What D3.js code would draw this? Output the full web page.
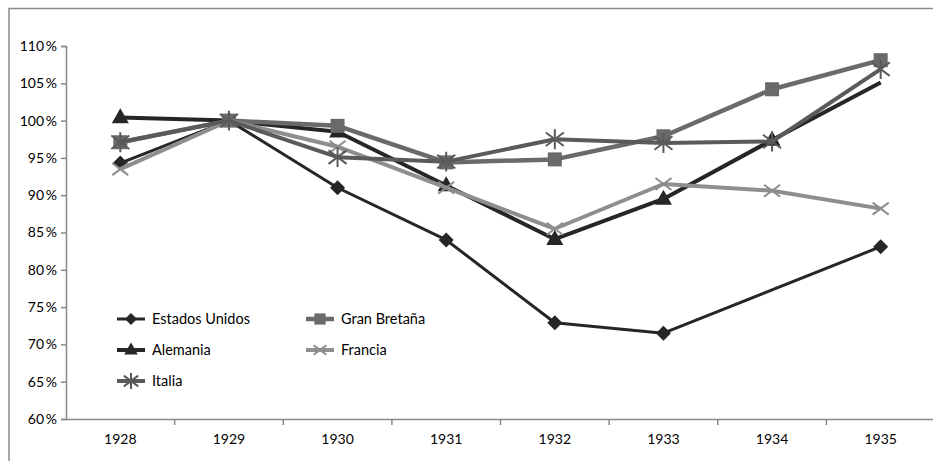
<!DOCTYPE html>
<html><head><meta charset="utf-8">
<script src="https://cdn.jsdelivr.net/npm/d3@7"></script>
<style>body{margin:0;background:#fff;} svg{display:block;font-family:Lato,"Open Sans",sans-serif;}</style>
</head><body>
<svg id="c" width="933" height="461"></svg>
<script>
const years = ["1928","1929","1930","1931","1932","1933","1934","1935"];
const yTicks = [0.60,0.65,0.70,0.75,0.80,0.85,0.90,0.95,1.00,1.05,1.10];
const estadosUnidos = [0.943, 1.00, 0.910, 0.840, 0.729, 0.715, null, 0.831];
const alemania      = [1.004, 1.00, 0.985, 0.913, 0.841, 0.895, 0.974, 1.051];
const granBretana   = [0.971, 1.00, 0.993, 0.944, 0.948, 0.979, 1.042, 1.081];
const francia       = [0.935, 1.00, 0.965, 0.910, 0.855, 0.915, 0.906, 0.882];
const italia        = [0.971, 1.00, 0.951, 0.945, 0.975, 0.970, 0.972, 1.069];
const seriesNames = ["Estados Unidos","Alemania","Gran Bretaña","Francia","Italia"];

const series = [
  {name:seriesNames[0], values:estadosUnidos, color:"#262626", width:3, marker:"diamond", noMarker:[]},
  {name:seriesNames[1], values:alemania, color:"#262626", width:4, marker:"triangle", noMarker:[7]},
  {name:seriesNames[2], values:granBretana, color:"#6a6a6a", width:4.5, marker:"square", noMarker:[]},
  {name:seriesNames[3], values:francia, color:"#8e8e8e", width:4, marker:"x", noMarker:[]},
  {name:seriesNames[4], values:italia, color:"#5a5a5a", width:4, marker:"asterisk", noMarker:[]}
];

const svg = d3.select("#c");
const L = 66, R = 935, T = 46, B = 419;
const x = d3.scaleBand().domain(years).range([L, R]);
const y = d3.scaleLinear().domain([0.6, 1.1]).range([B, T]);

// outer border
svg.append("path").attr("d", `M9,470 L9,8.5 L940,8.5`).attr("fill","none").attr("stroke","#8a8a8a").attr("stroke-width",1.5);

// y axis
const yAxis = d3.axisLeft(y).tickValues(yTicks).tickSize(5).tickPadding(4)
  .tickFormat(d => Math.round(d*100) + "\u2009%");
const gy = svg.append("g").attr("transform", `translate(${L},0)`).call(yAxis);
gy.select(".domain").attr("stroke","#888").attr("stroke-width",1.5);
gy.selectAll(".tick line").attr("stroke","#888").attr("stroke-width",1.5);
gy.selectAll("text").attr("font-size",14).attr("fill","#000").attr("font-family","Lato");

// x axis
const gx = svg.append("g").attr("transform", `translate(0,${B})`)
  .call(d3.axisBottom(x).tickSize(0).tickPadding(15));
gx.select(".domain").attr("stroke","#888").attr("stroke-width",1.5);
gx.selectAll("text").attr("font-size",14).attr("fill","#000").attr("font-family","Lato");
// boundary ticks
gx.selectAll(".btick").data(years.slice(1).concat(["end"])).enter().append("line")
  .attr("x1", (d,i) => x(years[0]) + (i+1)*x.step()).attr("x2", (d,i) => x(years[0]) + (i+1)*x.step())
  .attr("y1",0).attr("y2",6).attr("stroke","#888").attr("stroke-width",1.5);

function drawMarker(g, type, cx, cy, color, scale) {
  const s = scale || 1;
  if (type === "diamond") {
    const r = 7.5*s;
    g.append("path").attr("d",`M${cx},${cy-r}L${cx+r},${cy}L${cx},${cy+r}L${cx-r},${cy}Z`).attr("fill",color);
  } else if (type === "triangle") {
    const w = 8.5*s, h = 15*s;
    g.append("path").attr("d",`M${cx},${cy-h*0.62}L${cx+w},${cy+h*0.38}L${cx-w},${cy+h*0.38}Z`).attr("fill",color);
  } else if (type === "square") {
    const r = 7*s;
    g.append("rect").attr("x",cx-r).attr("y",cy-r).attr("width",2*r).attr("height",2*r).attr("fill",color);
  } else if (type === "x") {
    const r = 8*s;
    g.append("path").attr("d",`M${cx-r},${cy-r*0.75}L${cx+r},${cy+r*0.75}M${cx-r},${cy+r*0.75}L${cx+r},${cy-r*0.75}`)
      .attr("stroke",color).attr("stroke-width",2).attr("fill","none");
  } else if (type === "asterisk") {
    const r = 9*s;
    g.append("path").attr("d",`M${cx-r},${cy-r*0.75}L${cx+r},${cy+r*0.75}M${cx-r},${cy+r*0.75}L${cx+r},${cy-r*0.75}M${cx},${cy-r*1.1}L${cx},${cy+r*1.1}`)
      .attr("stroke",color).attr("stroke-width",2).attr("fill","none");
  }
}

const line = d3.line().x(d => x(d.year) + x.bandwidth()/2).y(d => y(d.v));
const plot = svg.append("g");
series.forEach(s => {
  const pts = s.values.map((v,i) => ({year: years[i], v, i})).filter(d => d.v !== null);
  const g = plot.append("g");
  g.append("path").datum(pts).attr("d", line).attr("fill","none")
    .attr("stroke", s.color).attr("stroke-width", s.width).attr("stroke-linejoin","round");
  pts.forEach(d => {
    if (s.noMarker.includes(d.i)) return;
    drawMarker(g, s.marker, x(d.year) + x.bandwidth()/2, y(d.v), s.color);
  });
});

// legend
const legendPos = [[117,319],[117,350],[306,319],[306,350],[117,381]];
series.forEach((s,i) => {
  const [lx, ly] = legendPos[i];
  const g = svg.append("g");
  g.append("line").attr("x1",lx).attr("x2",lx+28).attr("y1",ly).attr("y2",ly)
    .attr("stroke",s.color).attr("stroke-width",s.width);
  drawMarker(g, s.marker, lx+14, ly, s.color, 0.8);
  g.append("text").attr("x",lx+35).attr("y",ly+5).attr("font-size",14.5).attr("fill","#000").text(s.name);
});
</script>
</body></html>
